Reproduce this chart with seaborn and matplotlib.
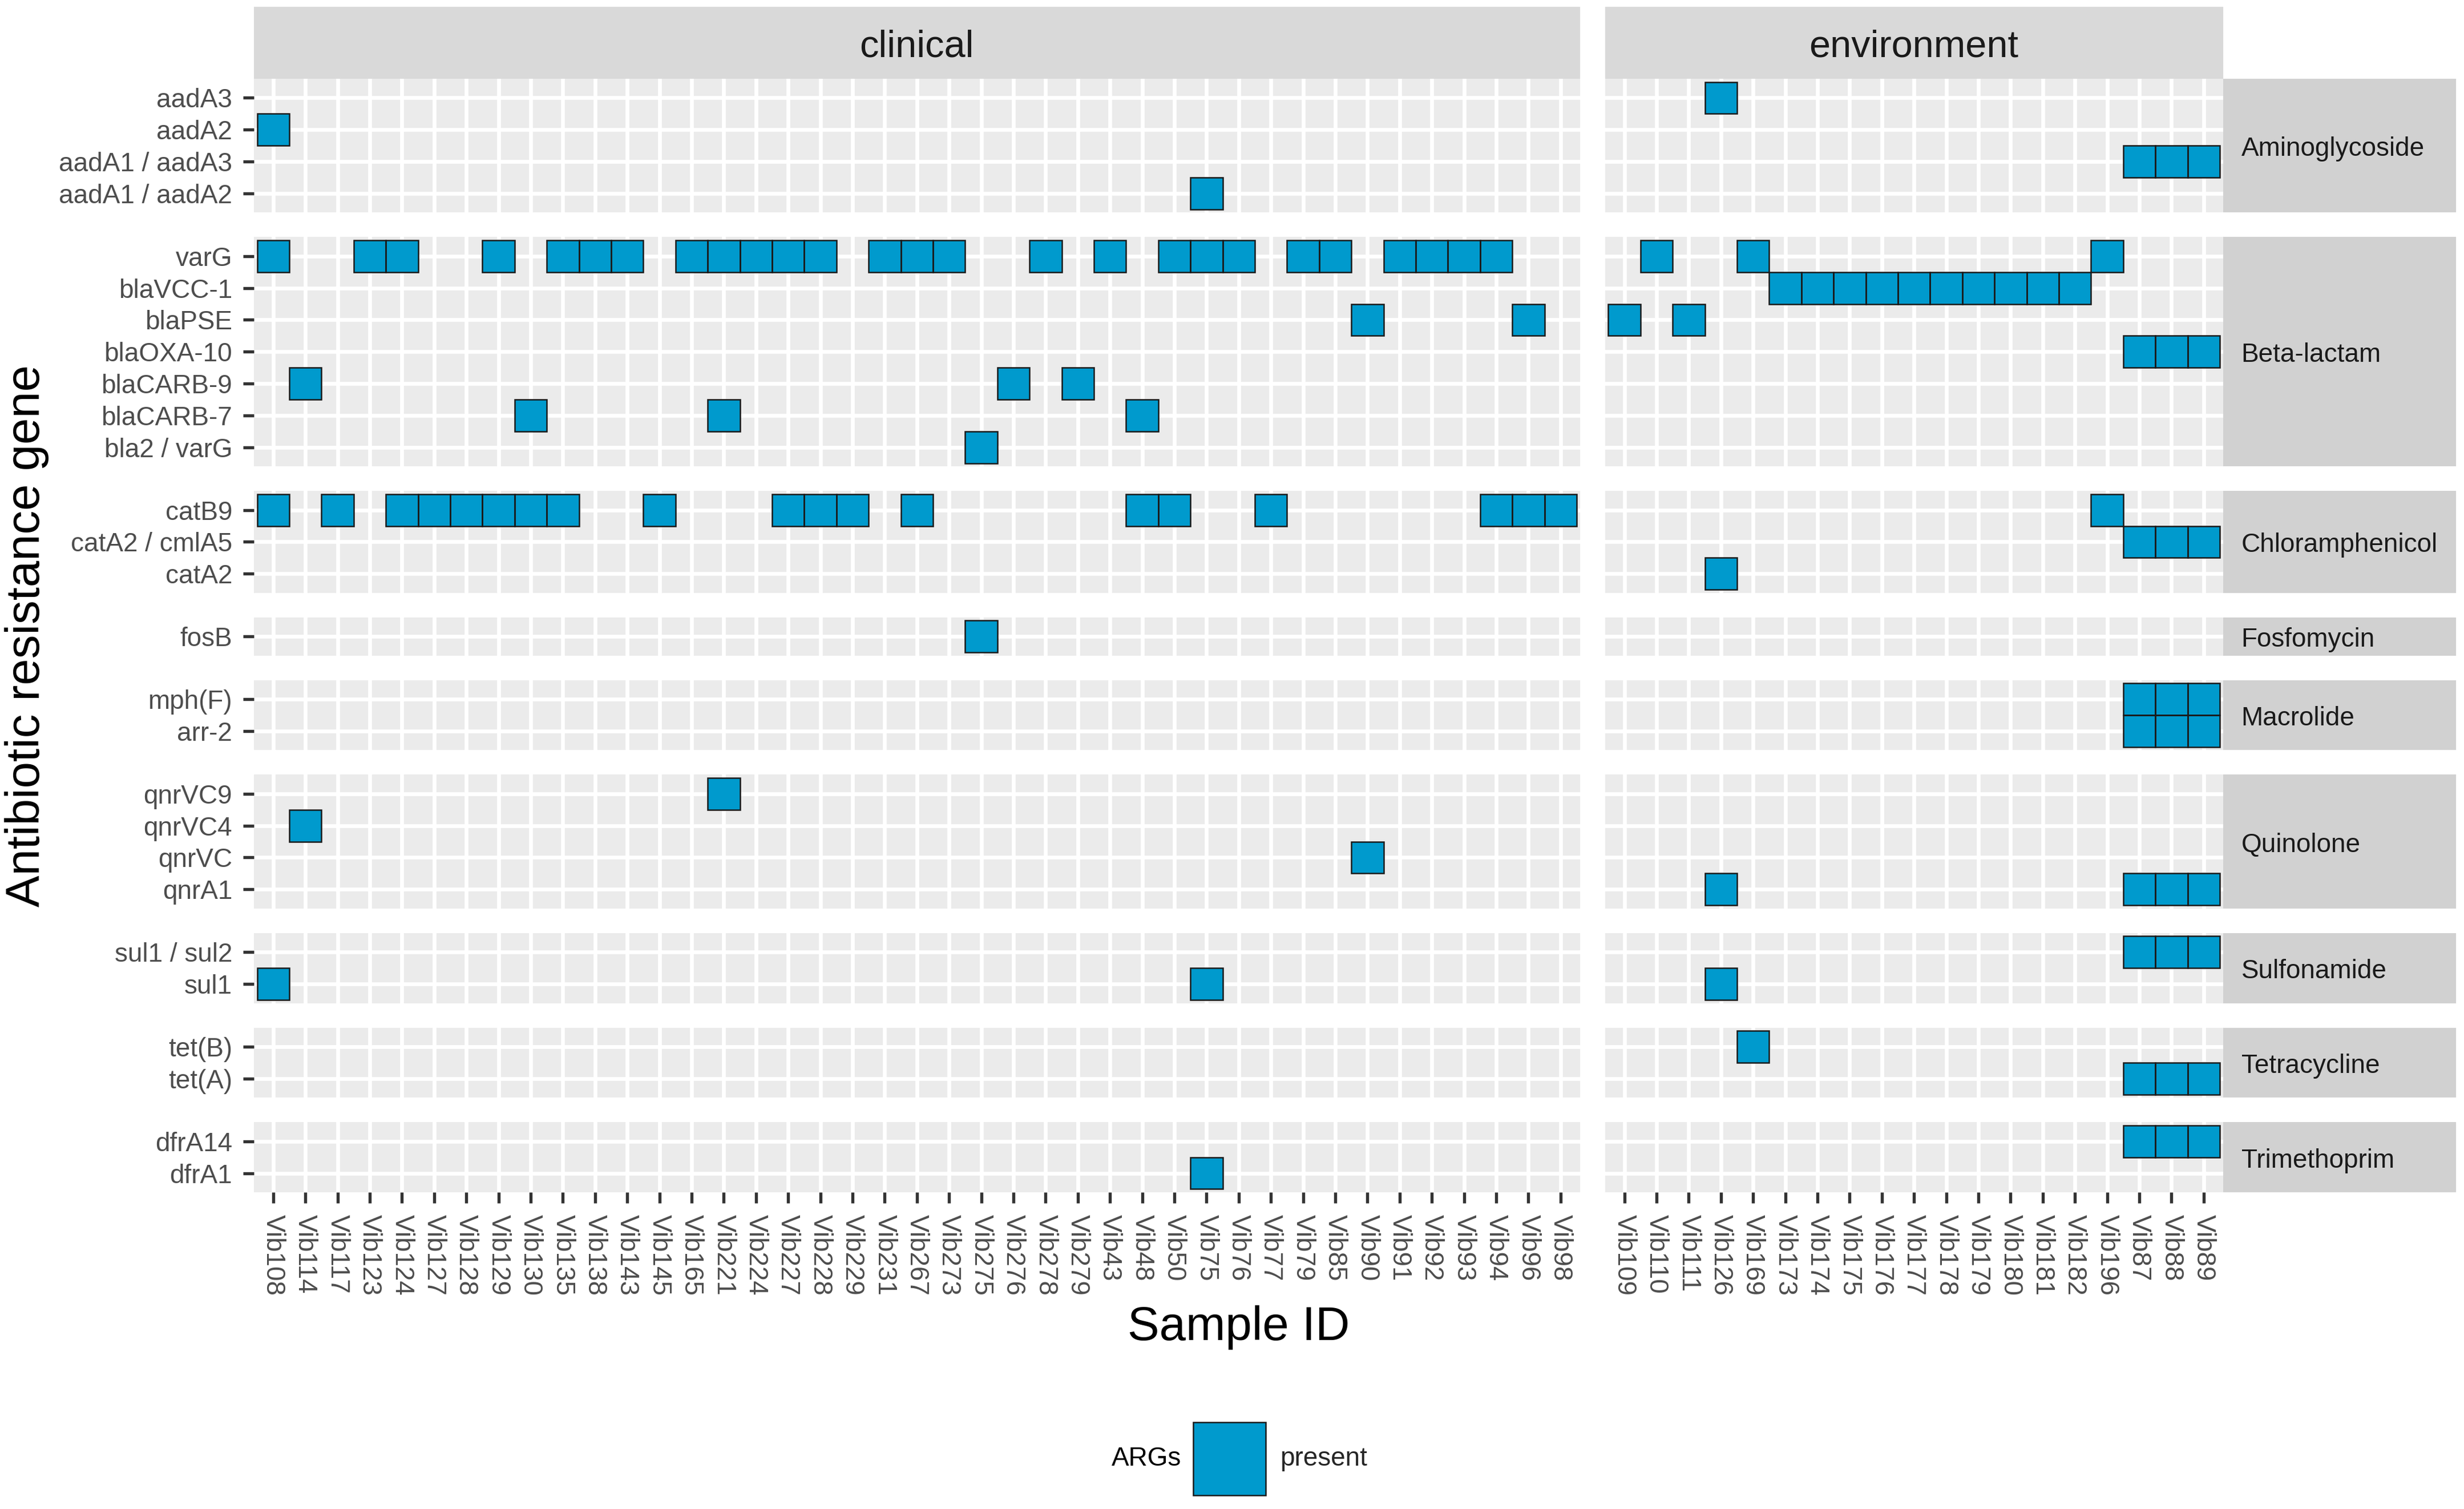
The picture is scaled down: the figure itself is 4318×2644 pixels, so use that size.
import numpy as np
import pandas as pd
import matplotlib
matplotlib.use("Agg")
import matplotlib.pyplot as plt
from matplotlib.colors import ListedColormap
from matplotlib.patches import Patch, Rectangle
import seaborn as sns

# samples (x axis), split by source facet
CLINICAL = ["Vib108", "Vib114", "Vib117", "Vib123", "Vib124", "Vib127", "Vib128",
            "Vib129", "Vib130", "Vib135", "Vib138", "Vib143", "Vib145", "Vib165",
            "Vib221", "Vib224", "Vib227", "Vib228", "Vib229", "Vib231", "Vib267",
            "Vib273", "Vib275", "Vib276", "Vib278", "Vib279", "Vib43", "Vib48",
            "Vib50", "Vib75", "Vib76", "Vib77", "Vib79", "Vib85", "Vib90", "Vib91",
            "Vib92", "Vib93", "Vib94", "Vib96", "Vib98"]
ENVIRONMENT = ["Vib109", "Vib110", "Vib111", "Vib126", "Vib169", "Vib173", "Vib174",
               "Vib175", "Vib176", "Vib177", "Vib178", "Vib179", "Vib180", "Vib181",
               "Vib182", "Vib196", "Vib87", "Vib88", "Vib89"]

# gene -> samples where the ARG is present (genes listed top to bottom)
AMINOGLYCOSIDE = {
    "aadA3": ["Vib126"],
    "aadA2": ["Vib108"],
    "aadA1 / aadA3": ["Vib87", "Vib88", "Vib89"],
    "aadA1 / aadA2": ["Vib75"],
}
BETA_LACTAM = {
    "varG": ["Vib108", "Vib123", "Vib124", "Vib129", "Vib135", "Vib138", "Vib143",
             "Vib165", "Vib221", "Vib224", "Vib227", "Vib228", "Vib231", "Vib267",
             "Vib273", "Vib278", "Vib43", "Vib50", "Vib75", "Vib76", "Vib79", "Vib85",
             "Vib91", "Vib92", "Vib93", "Vib94", "Vib110", "Vib169", "Vib196"],
    "blaVCC-1": ["Vib173", "Vib174", "Vib175", "Vib176", "Vib177", "Vib178",
                 "Vib179", "Vib180", "Vib181", "Vib182"],
    "blaPSE": ["Vib90", "Vib96", "Vib109", "Vib111"],
    "blaOXA-10": ["Vib87", "Vib88", "Vib89"],
    "blaCARB-9": ["Vib114", "Vib276", "Vib279"],
    "blaCARB-7": ["Vib130", "Vib221", "Vib48"],
    "bla2 / varG": ["Vib275"],
}
CHLORAMPHENICOL = {
    "catB9": ["Vib108", "Vib117", "Vib124", "Vib127", "Vib128", "Vib129", "Vib130",
              "Vib135", "Vib145", "Vib227", "Vib228", "Vib229", "Vib267", "Vib48",
              "Vib50", "Vib77", "Vib94", "Vib96", "Vib98", "Vib196"],
    "catA2 / cmlA5": ["Vib87", "Vib88", "Vib89"],
    "catA2": ["Vib126"],
}
FOSFOMYCIN = {
    "fosB": ["Vib275"],
}
MACROLIDE = {
    "mph(F)": ["Vib87", "Vib88", "Vib89"],
    "arr-2": ["Vib87", "Vib88", "Vib89"],
}
QUINOLONE = {
    "qnrVC9": ["Vib221"],
    "qnrVC4": ["Vib114"],
    "qnrVC": ["Vib90"],
    "qnrA1": ["Vib126", "Vib87", "Vib88", "Vib89"],
}
SULFONAMIDE = {
    "sul1 / sul2": ["Vib87", "Vib88", "Vib89"],
    "sul1": ["Vib108", "Vib75", "Vib126"],
}
TETRACYCLINE = {
    "tet(B)": ["Vib169"],
    "tet(A)": ["Vib87", "Vib88", "Vib89"],
}
TRIMETHOPRIM = {
    "dfrA14": ["Vib87", "Vib88", "Vib89"],
    "dfrA1": ["Vib75"],
}

SOURCES = ["clinical", "environment"]
SOURCE_SAMPLES = [CLINICAL, ENVIRONMENT]
CLASSES = ["Aminoglycoside", "Beta-lactam", "Chloramphenicol", "Fosfomycin",
           "Macrolide", "Quinolone", "Sulfonamide", "Tetracycline", "Trimethoprim"]
CLASS_GENES = [AMINOGLYCOSIDE, BETA_LACTAM, CHLORAMPHENICOL, FOSFOMYCIN, MACROLIDE,
               QUINOLONE, SULFONAMIDE, TETRACYCLINE, TRIMETHOPRIM]

# colours
BLUE = "#009ACD"
PANEL_BG = "#EBEBEB"
STRIP_TOP = "#D9D9D9"
STRIP_RIGHT = "#D1D1D1"
TICK_TXT = "#4D4D4D"

# canvas, in pixels
W, H, DPI = 4318, 2644, 300
LEFT, TOP = 445, 138
UX, UY = 56.4, 55.8
GAP_X, GAP_Y = 44, 43
STRIP_TOP_Y, STRIP_TOP_H = 12, 126
STRIP_RIGHT_W = 408

sns.set_theme(style="white")
plt.rcParams["font.family"] = ["Liberation Sans", "DejaVu Sans"]


def fig_rect(x, y, w, h):
    return [x / W, 1 - (y + h) / H, w / W, h / H]


fig = plt.figure(figsize=(W / DPI, H / DPI), dpi=DPI)
fig.patch.set_facecolor("white")

cols = []
x = LEFT
for samples in SOURCE_SAMPLES:
    w = (len(samples) + 0.2) * UX
    cols.append((x, w))
    x += w + GAP_X
right_edge = cols[-1][0] + cols[-1][1]

rows = []
y = TOP
for genes in CLASS_GENES:
    h = (len(genes) + 0.2) * UY
    rows.append((y, h))
    y += h + GAP_Y
bottom_edge = rows[-1][0] + rows[-1][1]

n_rows = len(CLASS_GENES)
for r, gene_map in enumerate(CLASS_GENES):
    genes = list(gene_map.keys())
    y0, h = rows[r]
    for c, samples in enumerate(SOURCE_SAMPLES):
        x0, w = cols[c]
        mat = pd.DataFrame(np.nan, index=genes, columns=samples)
        for g, hits in gene_map.items():
            for s in hits:
                if s in samples:
                    mat.loc[g, s] = 1.0

        ax = fig.add_axes(fig_rect(x0, y0, w, h))
        ax.set_facecolor(PANEL_BG)
        sns.heatmap(mat, ax=ax, cmap=ListedColormap([BLUE]), vmin=0, vmax=1,
                    cbar=False, linewidths=0, xticklabels=samples, yticklabels=genes)
        ii, jj = np.where(mat.notna().values)
        for i, j in zip(ii, jj):
            ax.add_patch(Rectangle((j, i), 1, 1, fill=False, edgecolor="#1A1A1A",
                                   linewidth=0.6, zorder=3))

        ax.set_xlim(-0.1, len(samples) + 0.1)
        ax.set_ylim(len(genes) + 0.1, -0.1)
        ax.set_xticks(np.arange(len(samples)) + 0.5)
        ax.set_yticks(np.arange(len(genes)) + 0.5)
        ax.grid(True, color="white", linewidth=1.6)
        ax.set_axisbelow(True)
        ax.set_xlabel("")
        ax.set_ylabel("")
        for sp in ax.spines.values():
            sp.set_visible(False)

        is_left = c == 0
        is_bottom = r == n_rows - 1
        ax.tick_params(axis="x", bottom=is_bottom, top=False, labelbottom=is_bottom,
                       length=4.6, width=1.3, color="#333333", pad=4.8,
                       labelsize=11, labelcolor=TICK_TXT)
        ax.tick_params(axis="y", left=is_left, right=False, labelleft=is_left,
                       length=4.6, width=1.3, color="#333333", pad=4.5,
                       labelsize=11, labelcolor=TICK_TXT)
        if is_bottom:
            ax.set_xticklabels(samples, rotation=-90, ha="center", va="top")
        else:
            ax.set_xticklabels([])
        if is_left:
            ax.set_yticklabels(genes, rotation=0, ha="right", va="center_baseline")
        else:
            ax.set_yticklabels([])

# top strips
for c, name in enumerate(SOURCES):
    x0, w = cols[c]
    sax = fig.add_axes(fig_rect(x0, STRIP_TOP_Y, w, STRIP_TOP_H))
    sax.set_facecolor(STRIP_TOP)
    sax.set_xticks([])
    sax.set_yticks([])
    for sp in sax.spines.values():
        sp.set_visible(False)
    sax.text(0.5, 0.5 - 8 / STRIP_TOP_H, name, ha="center", va="center",
             fontsize=16, color="#1A1A1A", transform=sax.transAxes)

# right strips
for r, name in enumerate(CLASSES):
    y0, h = rows[r]
    sax = fig.add_axes(fig_rect(right_edge, y0, STRIP_RIGHT_W, h))
    sax.set_facecolor(STRIP_RIGHT)
    sax.set_xticks([])
    sax.set_yticks([])
    for sp in sax.spines.values():
        sp.set_visible(False)
    sax.text(32 / STRIP_RIGHT_W, 0.5 - 6 / h, name, ha="left", va="center",
             fontsize=11, color="#1A1A1A", transform=sax.transAxes)

# axis titles
fig.text((LEFT + right_edge) / 2 / W, 1 - 2348 / H, "Sample ID",
         ha="center", va="baseline", fontsize=20, color="black")
fig.text(47 / W, 1 - (TOP + bottom_edge) / 2 / H, "Antibiotic resistance gene",
         rotation=90, ha="center", va="center", fontsize=20, color="black")

# legend
fig.text(1948 / W, 1 - 2556 / H, "ARGs", ha="left", va="center", fontsize=11,
         color="black")
fig.legend(handles=[Patch(facecolor=BLUE, edgecolor="#1A1A1A", linewidth=0.6)],
           labels=["present"], loc="center left",
           bbox_to_anchor=(2091 / W, 1 - 2556 / H), frameon=False, fontsize=11,
           handlelength=2.77, handleheight=3.89, handletextpad=0.55,
           borderpad=0, borderaxespad=0)

fig.savefig("out.png", dpi=DPI, facecolor="white")
